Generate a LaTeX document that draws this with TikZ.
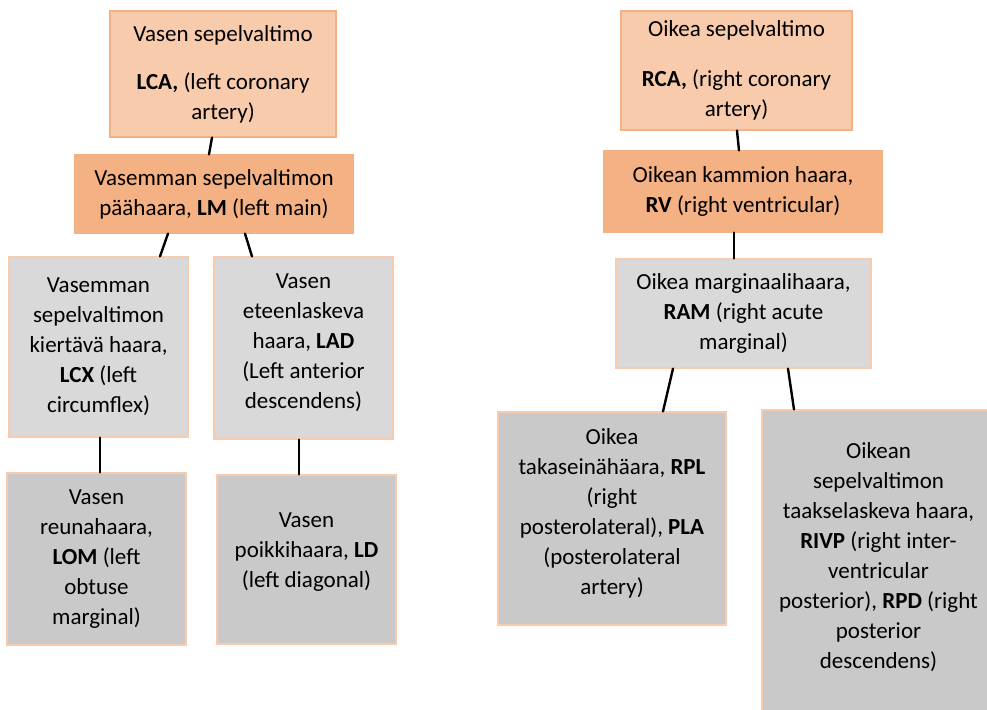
\documentclass[tikz,border=0pt]{standalone}
\usepackage{fontspec}
\setmainfont{Carlito}
\definecolor{peachlight}{HTML}{F8CBAD}
\definecolor{peachmid}{HTML}{F4B183}
\definecolor{greylight}{HTML}{D9D9D9}
\definecolor{greydark}{HTML}{C9C9C9}
\begin{document}
\begin{tikzpicture}[x=0.5pt,y=-0.5pt,line cap=round,
  box/.style={draw=peachlight,line width=0.6pt,align=center,inner sep=0pt,
    font=\fontsize{11.5}{15}\selectfont},
  mainbox/.style={box,fill=peachlight,draw=peachmid},
  trunkbox/.style={box,fill=peachmid,draw=peachmid},
  branchbox/.style={box,fill=greylight},
  twigbox/.style={box,fill=greydark},
  link/.style={line width=1.2pt}]
  \useasboundingbox (0,0) rectangle (987,709);
  \node[mainbox,minimum width=113pt,minimum height=63pt] (lca) at (223,74)
    {Vasen sepelvaltimo\\[9pt]\textbf{LCA,} (left coronary\\artery)};
  \node[trunkbox,minimum width=139pt,minimum height=39pt] (lm) at (214,194)
    {Vasemman sepelvaltimon\\p\"a\"ahaara, \textbf{LM} (left main)};
  \node[branchbox,minimum width=89.5pt,minimum height=90pt] (lcx) at (98.5,347)
    {Vasemman\\sepelvaltimon\\kiert\"av\"a haara,\\\textbf{LCX} (left\\circumflex)};
  \node[branchbox,minimum width=89.5pt,minimum height=91pt] (lad) at (303.5,348)
    {Vasen\\eteenlaskeva\\haara, \textbf{LAD}\\(Left anterior\\descendens)\\[-8pt]};
  \node[twigbox,minimum width=89.5pt,minimum height=86pt] (lom) at (96.5,559)
    {Vasen\\reunahaara,\\\textbf{LOM} (left\\obtuse\\marginal)};
  \node[twigbox,minimum width=89.5pt,minimum height=84.5pt] (ld) at (306.5,559.5)
    {Vasen\\poikkihaara, \textbf{LD}\\(left diagonal)\\[-5.5pt]};
  \node[mainbox,minimum width=115.5pt,minimum height=59.5pt] (rca) at (736.5,70.5)
    {Oikea sepelvaltimo\\[10pt]\textbf{RCA,} (right coronary\\artery)};
  \node[trunkbox,minimum width=139pt,minimum height=40.5pt] (rv) at (743,191.5)
    {Oikean kammion haara,\\\textbf{RV} (right ventricular)};
  \node[branchbox,minimum width=127.5pt,minimum height=54.5pt] (ram) at (743.5,313.5)
    {Oikea marginaalihaara,\\\textbf{RAM} (right acute\\marginal)};
  \node[twigbox,minimum width=114pt,minimum height=106.5pt] (rpl) at (612,518.5)
    {Oikea\\takasein\"ah\"aara, \textbf{RPL}\\(right\\posterolateral), \textbf{PLA}\\(posterolateral\\artery)\\[-8pt]};
  \node[twigbox,minimum width=116.5pt,minimum height=152.5pt] (rpd) at (878.5,562.5)
    {Oikean\\sepelvaltimon\\taakselaskeva haara,\\\textbf{RIVP} (right inter-\\ventricular\\posterior), \textbf{RPD} (right\\posterior\\descendens)\\[-8.5pt]};
  \draw[link] ([xshift=-5.5pt]lca.south) -- ([xshift=-2.5pt]lm.north);
  \draw[link] ([xshift=-23pt]lm.south) -- ([xshift=30.75pt]lcx.north);
  \draw[link] ([xshift=15.5pt]lm.south) -- ([xshift=-25.75pt]lad.north);
  \draw[link] ([xshift=0.75pt]lcx.south) -- ([xshift=1.75pt]lom.north);
  \draw[link] ([xshift=-2.25pt]lad.south) -- ([xshift=-3.75pt]ld.north);
  \draw[link] ([xshift=0.25pt]rca.south) -- ([xshift=-2pt]rv.north);
  \draw[link] ([xshift=-4.5pt]rv.south) -- ([xshift=-4.75pt]ram.north);
  \draw[link] ([xshift=-35.25pt]ram.south) -- ([xshift=25.5pt]rpl.north);
  \draw[link] ([xshift=22.25pt]ram.south) -- ([xshift=-42.25pt]rpd.north);
\end{tikzpicture}
\end{document}
